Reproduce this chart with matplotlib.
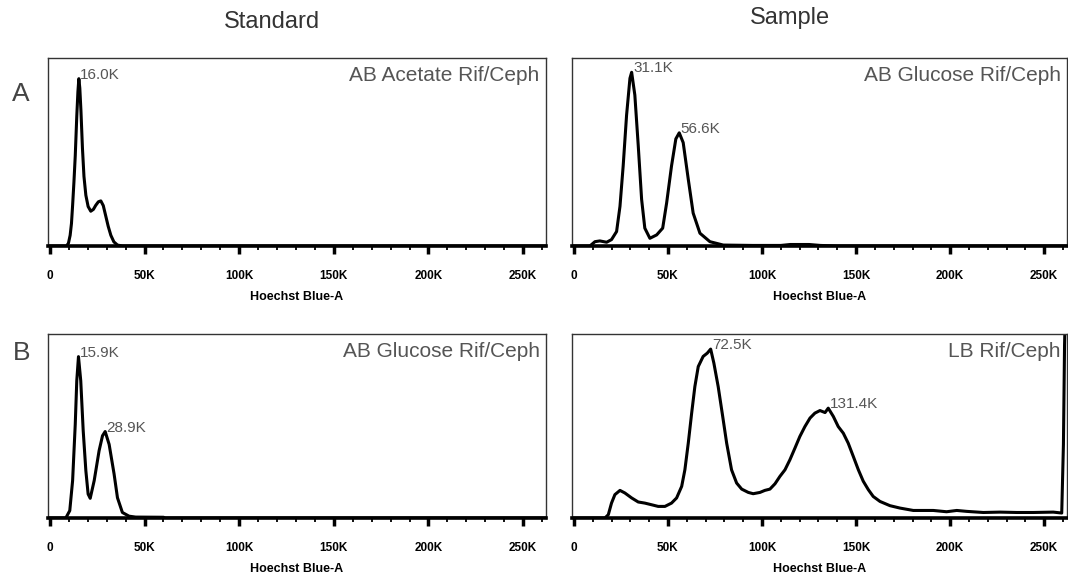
import numpy as np
import matplotlib.pyplot as plt

plt.rcParams['font.family'] = ['Liberation Sans', 'DejaVu Sans']

# traces: x = Hoechst Blue-A channel (K), y = count in % of axis height
std_acetate_x = [0, 8.8, 9.8, 10.7, 11.4, 12.0, 12.7, 13.4, 14.2, 14.8, 15.3, 15.8, 16.4, 17.2, 18.0,
                 19.0, 20.2, 21.6, 23.0, 24.2, 25.6, 26.9, 28.2, 29.5, 30.8, 32.2, 33.8, 35.7, 38.3, 262.1]
std_acetate_y = [0, 0, 1.5, 5.7, 12, 21.6, 34, 48, 69, 82, 89, 84, 72, 52, 37,
                 27, 21, 18.5, 19.5, 21.6, 23.5, 24, 21.5, 16, 10.5, 5.7, 2.2, 0.5, 0, 0]

smp_glucose_x = [0, 8.5, 11.2, 13.8, 17.4, 20.0, 22.7, 24.5, 26.2, 28.0, 29.8, 30.7, 32.4, 34.2, 36.0,
                 37.7, 40.4, 44.0, 47.2, 49.3, 51.9, 54.2, 56.0, 58.1, 60.8, 63.4, 67.0, 72.3, 79.4,
                 95.0, 110.0, 115.0, 125.0, 131.0, 140.0, 262.1]
smp_glucose_y = [0, 0, 2.3, 2.7, 2.0, 3.4, 7.7, 21.1, 42.6, 69.5, 89.2, 92.4, 80.3, 53.5, 24.8,
                 9.5, 4.1, 5.9, 9.5, 22.9, 42.6, 57, 60.2, 55, 35.5, 17.5, 6.8, 2.3, 0.5,
                 0.3, 0.3, 0.8, 0.8, 0.3, 0, 0]

std_glucose_x = [0, 8.4, 10.5, 12.0, 13.4, 14.2, 15.1, 16.3, 17.6, 19.0, 20.2, 21.3, 23.4, 26.0, 27.8,
                 29.2, 31.3, 33.9, 35.7, 38.3, 41.8, 45.3, 60.0, 61.0, 262.1]
std_glucose_y = [0, 0, 4, 20.3, 51, 74.6, 87.7, 74.6, 47.4, 25.7, 13, 10.7, 20.3, 36.6, 44.7,
                 47, 40, 24, 11, 3, 1, 0.5, 0.4, 0, 0]

smp_lb_x = [0, 16.5, 18.3, 20.0, 21.8, 24.5, 27.1, 30.7, 34.2, 37.7, 41.3, 44.8, 48.4, 51.9, 54.6,
            57.3, 59.0, 60.8, 62.6, 64.3, 66.1, 68.7, 70.9, 72.7, 74.4, 76.7, 79.1, 81.2, 83.8,
            86.5, 89.2, 92.7, 95.3, 98.9, 101.5, 104.2, 106.9, 109.5, 112.2, 114.8, 117.5, 120.1,
            122.8, 125.5, 128.1, 130.8, 133.5, 135.2, 137.9, 140.5, 143.2, 145.8, 148.5, 151.2,
            153.8, 156.5, 159.1, 162.7, 168.0, 173.3, 180.4, 191.0, 198.1, 203.5, 208.8, 217.6,
            226.5, 235.4, 244.2, 254.8, 259.3, 260.2, 260.8, 261.6]
smp_lb_y = [0, 0, 1.8, 8.1, 12.7, 15, 13.6, 10.9, 8.7, 8.1, 7.2, 6.3, 6.3, 8.1, 10.9,
            17.2, 26.2, 40.7, 57, 71.4, 82.3, 87.8, 89.6, 91.8, 84.2, 71.4, 55.2, 40.7, 26.2,
            19, 15.7, 13.9, 13.2, 13.9, 15, 15.7, 18.6, 22.6, 26.2, 31.6, 38, 44.3,
            49.7, 54.3, 57, 58.4, 57.3, 59.7, 55.2, 49.7, 46.1, 40.7, 33.5, 26.2,
            20, 15.4, 11.7, 9.0, 6.7, 5.4, 4.1, 4.1, 3.4, 4.1, 3.6, 3.0,
            3.2, 3.0, 3.0, 3.2, 2.7, 40, 94, 130]

panel_x = [std_acetate_x, smp_glucose_x, std_glucose_x, smp_lb_x]
panel_y = [std_acetate_y, smp_glucose_y, std_glucose_y, smp_lb_y]
panel_names = ['AB Acetate Rif/Ceph', 'AB Glucose Rif/Ceph', 'AB Glucose Rif/Ceph', 'LB Rif/Ceph']
peak_labels = [['16.0K'], ['31.1K', '56.6K'], ['15.9K', '28.9K'], ['72.5K', '131.4K']]

major_ticks = [0, 50, 100, 150, 200, 250]
major_labels = ['0', '50K', '100K', '150K', '200K', '250K']
minor_ticks = np.arange(0, 261, 10)

col_titles = ['Standard', 'Sample']
row_labels = ['A', 'B']

fig = plt.figure(figsize=(10.68, 5.75), dpi=100)
W, H = 1068, 575
# [left, top, right, bottom] in pixels
boxes = [(48, 58, 546, 246), (572, 58, 1067, 246),
         (48, 334, 546, 518), (572, 334, 1067, 518)]

for i, (l, t, r, b) in enumerate(boxes):
    ax = fig.add_axes([l / W, 1 - b / H, (r - l) / W, (b - t) / H])
    ax.plot(panel_x[i], panel_y[i], color='black', lw=2.2, solid_joinstyle='round')
    ax.set_xlim(-1, 262.1)
    ax.set_ylim(0, 100)

    for s in ['top', 'left', 'right']:
        ax.spines[s].set_linewidth(1.0)
        ax.spines[s].set_color('#333333')
    ax.spines['bottom'].set_linewidth(2.6)
    ax.spines['bottom'].set_color('black')

    ax.set_yticks([])
    ax.set_xticks(major_ticks)
    ax.set_xticklabels(major_labels)
    ax.set_xticks(minor_ticks, minor=True)
    ax.tick_params(axis='x', which='major', direction='out', length=6, width=2.5,
                   pad=11, labelsize=8.5, color='black')
    ax.tick_params(axis='x', which='minor', direction='out', length=3, width=1.3, color='black')
    for lab in ax.get_xticklabels():
        lab.set_fontweight('bold')
    ax.set_xlabel('Hoechst Blue-A', fontsize=9, fontweight='bold', labelpad=7)

    ax.text(0.987, 0.955, panel_names[i], transform=ax.transAxes, ha='right', va='top',
            fontsize=15, color='#555555')

    xs = np.array(panel_x[i])
    ys = np.array(panel_y[i])
    for lab in peak_labels[i]:
        v = float(lab[:-1])
        win = np.where(np.abs(xs - v) <= 6)[0]
        k = win[np.argmax(ys[win])]
        ax.annotate(lab, (xs[k], ys[k]), xytext=(1, 0), textcoords='offset points',
                    ha='left', va='baseline', fontsize=11, color='#555555')

fig.text(272 / W, 1 - 22 / H, col_titles[0], ha='center', va='center', fontsize=17, color='#333333')
fig.text(790 / W, 1 - 18 / H, col_titles[1], ha='center', va='center', fontsize=17, color='#333333')
fig.text(21 / W, 1 - 94 / H, row_labels[0], ha='center', va='center', fontsize=19, color='#444444')
fig.text(22 / W, 1 - 353 / H, row_labels[1], ha='center', va='center', fontsize=19, color='#444444')

fig.savefig('out.png', dpi=100)
